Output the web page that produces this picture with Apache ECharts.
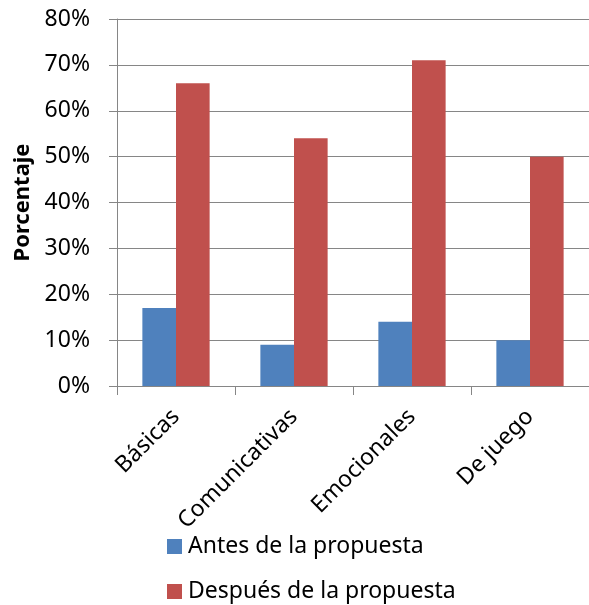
<!DOCTYPE html>
<html>
<head>
<meta charset="utf-8">
<script src="https://cdn.jsdelivr.net/npm/echarts@6/dist/echarts.min.js"></script>
<style>
  html, body { margin: 0; padding: 0; background: #fff; }
  #chart { width: 589px; height: 605px; }
</style>
</head>
<body>
<div id="chart"></div>
<script>
const categories = ['Básicas', 'Comunicativas', 'Emocionales', 'De juego'];
const antes = [17, 9, 14, 10];
const despues = [66, 54, 71, 50];
const seriesNames = ['Antes de la propuesta', 'Después de la propuesta'];

const font = 'Noto Sans';
const chart = echarts.init(document.getElementById('chart'));

// one legend per row so the second item does not wrap to the side
const legendRow = (name, top) => ({
    orient: 'vertical',
    left: 167,
    top: top,
    padding: 0,
    itemWidth: 15,
    itemHeight: 15,
    icon: 'rect',
    textStyle: { fontFamily: font, fontSize: 23, color: '#000', padding: [0, 0, 0, 1] },
    data: [name]
});

chart.setOption({
    animation: false,
    textStyle: { fontFamily: font },
    grid: {
        left: 117,
        right: 0,
        top: 19,
        bottom: 219
    },
    legend: [
        legendRow(seriesNames[0], 535),
        legendRow(seriesNames[1], 580)
    ],
    xAxis: {
        type: 'category',
        data: categories,
        axisLine: { lineStyle: { color: '#868686', width: 1 } },
        axisTick: { show: true, length: 9, lineStyle: { color: '#868686' } },
        axisLabel: {
            rotate: 45,
            margin: 27,
            fontFamily: font,
            fontSize: 23,
            color: '#000'
        }
    },
    yAxis: {
        type: 'value',
        min: 0,
        max: 80,
        interval: 10,
        name: 'Porcentaje',
        nameLocation: 'middle',
        nameGap: 82,
        nameTextStyle: { fontFamily: font, fontSize: 22, fontWeight: 'bold', color: '#000' },
        axisLine: { show: true, lineStyle: { color: '#868686', width: 1 } },
        axisTick: { show: true, length: 8, lineStyle: { color: '#868686' } },
        splitLine: { lineStyle: { color: '#868686', width: 1 } },
        axisLabel: {
            formatter: '{value}%',
            margin: 27,
            fontFamily: font,
            fontSize: 23,
            color: '#000'
        }
    },
    series: [
        {
            name: seriesNames[0],
            type: 'bar',
            data: antes,
            barWidth: '28.5%',
            barGap: '0%',
            itemStyle: { color: '#4F81BD' }
        },
        {
            name: seriesNames[1],
            type: 'bar',
            data: despues,
            barWidth: '28.5%',
            barGap: '0%',
            itemStyle: { color: '#C0504D' }
        }
    ]
});
</script>
</body>
</html>
